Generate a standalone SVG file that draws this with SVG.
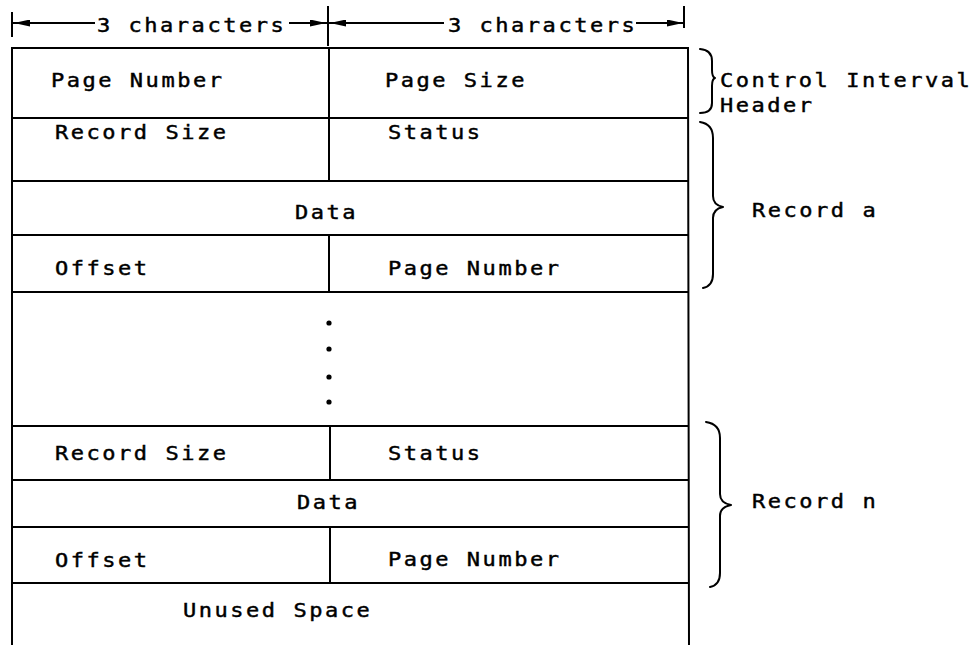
<svg xmlns="http://www.w3.org/2000/svg" width="978" height="645" viewBox="0 0 978 645">
  <style>
    .ln { stroke: #000; stroke-width: 2; fill: none; stroke-linecap: square; }
    .br { stroke: #000; stroke-width: 2; fill: none; stroke-linecap: round; stroke-linejoin: round; }
    .t { font-family: "DejaVu Sans Mono", "Liberation Mono", monospace; font-size: 20px; letter-spacing: 2.3px; fill: #000; stroke: #000; stroke-width: 0.45px; }
  </style>
  <defs>
    <marker id="ah" viewBox="0 0 16 7" refX="16" refY="3.5" markerWidth="16" markerHeight="7" markerUnits="userSpaceOnUse" orient="auto">
      <path d="M0,0 L16,3.5 L0,7 Z" fill="#000"/>
    </marker>
  </defs>
  <rect width="978" height="645" fill="#fff"/>

  <!-- width dimension arrows above the layout -->
  <g id="connectors">
    <line class="ln" x1="12" y1="13" x2="12" y2="36"/>
    <line class="ln" x1="328" y1="7" x2="328" y2="45"/>
    <line class="ln" x1="684" y1="7" x2="684" y2="27"/>
    <line class="ln" x1="94" y1="23" x2="14" y2="23" marker-end="url(#ah)"/>
    <line class="ln" x1="290" y1="23" x2="326" y2="23" marker-end="url(#ah)"/>
    <line class="ln" x1="443" y1="23" x2="330" y2="23" marker-end="url(#ah)"/>
    <line class="ln" x1="637" y1="23" x2="683" y2="23" marker-end="url(#ah)"/>
  </g>
  <!-- labels use a slightly widened monospace face: translate to the start point, then stretch -->
  <g id="dim-labels">
    <text class="t" transform="translate(97,32) scale(1.1,1)">3 characters</text>
    <text class="t" transform="translate(448,32) scale(1.1,1)">3 characters</text>
  </g>

  <!-- outer frame -->
  <g id="frame">
    <line class="ln" x1="12" y1="48" x2="688" y2="48"/>
    <line class="ln" x1="12" y1="48" x2="12" y2="645"/>
    <line class="ln" x1="688" y1="48" x2="689" y2="645"/>
  </g>

  <g id="header">
    <line class="ln" x1="12" y1="118" x2="688" y2="118"/>
    <line class="ln" x1="329" y1="48" x2="329" y2="118"/>
    <text class="t" transform="translate(51,87) scale(1.1,1)">Page Number</text>
    <text class="t" transform="translate(385,87) scale(1.1,1)">Page Size</text>
  </g>

  <g id="record-a">
    <line class="ln" x1="12" y1="181" x2="688" y2="181"/>
    <line class="ln" x1="12" y1="235" x2="688" y2="235"/>
    <line class="ln" x1="12" y1="292" x2="688" y2="292"/>
    <line class="ln" x1="329" y1="118" x2="329" y2="181"/>
    <line class="ln" x1="329" y1="235" x2="329" y2="292"/>
    <text class="t" transform="translate(55,139) scale(1.1,1)">Record Size</text>
    <text class="t" transform="translate(388,139) scale(1.1,1)">Status</text>
    <text class="t" transform="translate(295,219) scale(1.1,1)">Data</text>
    <text class="t" transform="translate(55,275) scale(1.1,1)">Offset</text>
    <text class="t" transform="translate(388,275) scale(1.1,1)">Page Number</text>
  </g>

  <g id="ellipsis">
    <line class="ln" x1="12" y1="426" x2="688" y2="426"/>
    <circle cx="329" cy="323" r="2.6" fill="#000"/>
    <circle cx="329" cy="349" r="2.6" fill="#000"/>
    <circle cx="329" cy="377" r="2.6" fill="#000"/>
    <circle cx="329" cy="402" r="2.6" fill="#000"/>
  </g>

  <g id="record-n">
    <line class="ln" x1="12" y1="480" x2="688" y2="480"/>
    <line class="ln" x1="12" y1="527" x2="688" y2="527"/>
    <line class="ln" x1="12" y1="583" x2="688" y2="583"/>
    <line class="ln" x1="330" y1="426" x2="330" y2="480"/>
    <line class="ln" x1="330" y1="527" x2="330" y2="583"/>
    <text class="t" transform="translate(55,460) scale(1.1,1)">Record Size</text>
    <text class="t" transform="translate(388,460) scale(1.1,1)">Status</text>
    <text class="t" transform="translate(297,509) scale(1.1,1)">Data</text>
    <text class="t" transform="translate(55,567) scale(1.1,1)">Offset</text>
    <text class="t" transform="translate(388,566) scale(1.1,1)">Page Number</text>
  </g>

  <g id="unused">
    <text class="t" transform="translate(183,617) scale(1.1,1)">Unused Space</text>
  </g>

  <g id="brace-header">
    <path class="br" d="M700,49 Q712,50 712,61 L712,70 Q712,77 715,78 Q712,79 712,86 L712,103 Q712,113 700,113"/>
    <text class="t" transform="translate(720,87) scale(1.1,1)">Control Interval</text>
    <text class="t" transform="translate(720,112) scale(1.1,1)">Header</text>
  </g>

  <g id="brace-record-a">
    <path class="br" d="M700,122 Q713,124 713,138 L713,196 Q713,205 723,207 Q713,209 713,218 L713,274 Q713,286 703,288"/>
    <text class="t" transform="translate(752,217) scale(1.1,1)">Record a</text>
  </g>

  <g id="brace-record-n">
    <path class="br" d="M706,422 Q720,424 720,438 L720,494 Q720,503 731,505 Q720,507 720,516 L720,573 Q720,585 710,587"/>
    <text class="t" transform="translate(752,508) scale(1.1,1)">Record n</text>
  </g>
</svg>
